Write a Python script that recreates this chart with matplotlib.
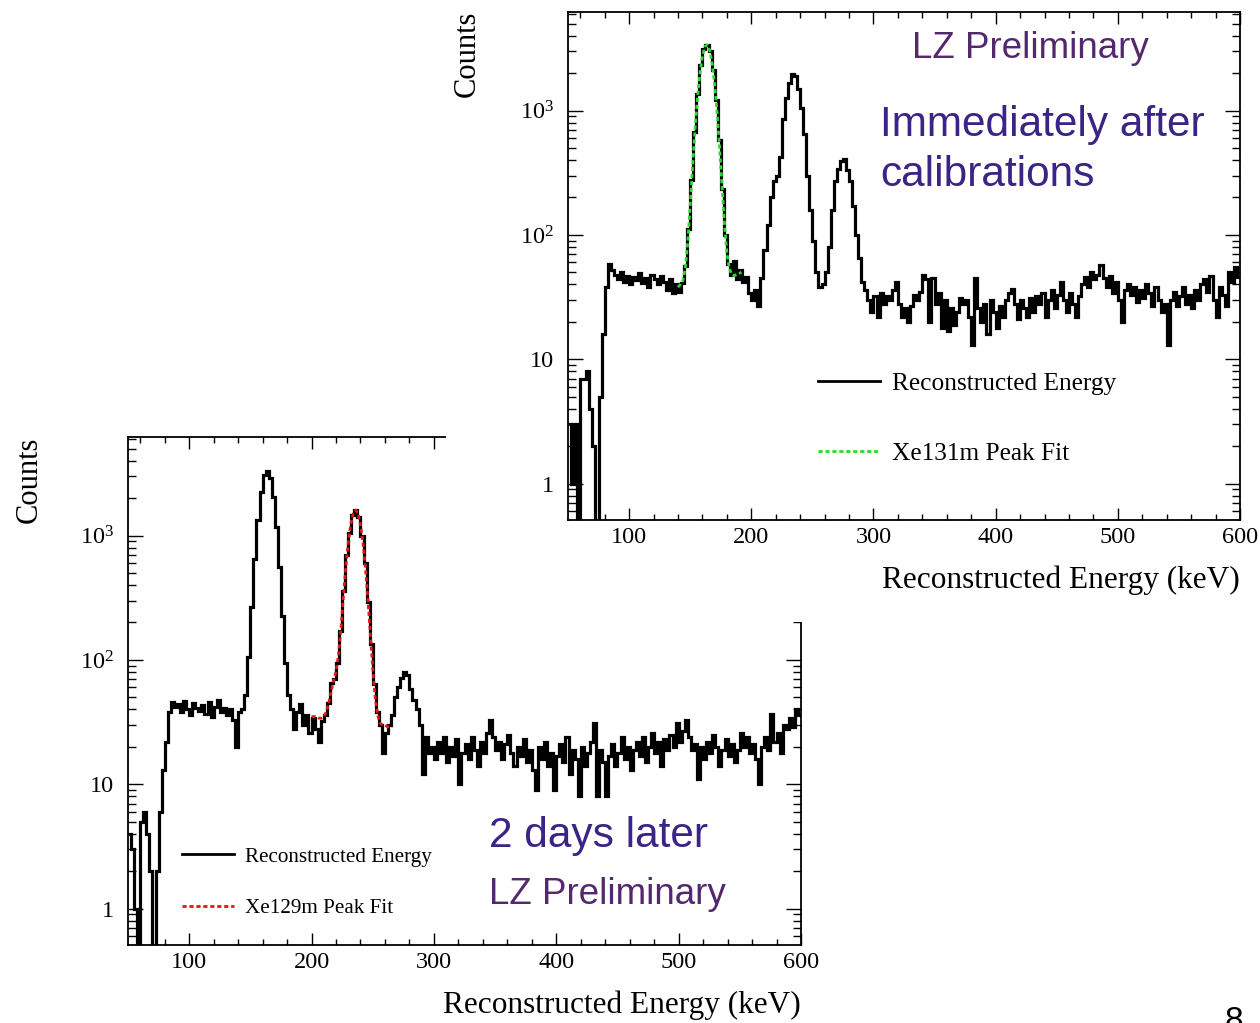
import numpy as np
import matplotlib
matplotlib.use('Agg')
import matplotlib.pyplot as plt
from matplotlib.lines import Line2D
from matplotlib.patches import Rectangle
from matplotlib.ticker import MultipleLocator, FixedLocator, LogLocator, FixedFormatter, NullFormatter

plt.rcParams['font.family'] = ['Liberation Serif', 'DejaVu Serif']
plt.rcParams['mathtext.fontset'] = 'custom'
plt.rcParams['mathtext.rm'] = 'Liberation Serif'

# ---------------- data ----------------
bin_start = 50.0
bin_width = 2.5

# "Immediately after calibrations" histogram (2.5 keV bins, 50-600 keV)
counts_after_calib = [
    3, 1, 3, 0, 7, 7, 8, 4,
    2, 0, 5, 16, 38, 58, 52, 48,
    44, 50, 42, 47, 40, 46, 43, 49,
    41, 45, 38, 48, 44, 40, 47, 42,
    36, 44, 34, 40, 35, 41, 56, 111,
    276, 667, 1371, 2320, 3150, 3380, 3010, 2120,
    1210, 575, 232, 100, 58, 48, 62, 44,
    52, 42, 46, 34, 30, 36, 27, 45,
    75, 120, 200, 270, 300, 420, 850, 1250,
    1650, 1950, 1900, 1500, 1050, 650, 300, 160,
    90, 50, 38, 40, 50, 80, 160, 270,
    340, 390, 405, 330, 270, 170, 100, 65,
    42, 36, 30, 24, 32, 22, 34, 28,
    32, 30, 36, 42, 28, 22, 26, 20,
    27, 33, 30, 35, 48, 44, 20, 45,
    28, 34, 18, 30, 17, 26, 19, 24,
    31, 28, 30, 22, 13, 45, 26, 20,
    28, 16, 30, 24, 18, 27, 22, 30,
    34, 37, 28, 21, 30, 26, 22, 31,
    24, 32, 28, 34, 22, 30, 36, 26,
    33, 42, 30, 24, 34, 28, 22, 32,
    40, 46, 38, 50, 44, 48, 57, 45,
    38, 47, 34, 42, 30, 20, 36, 40,
    33, 38, 29, 36, 31, 40, 34, 27,
    38, 30, 24, 28, 13, 30, 35, 27,
    32, 38, 28, 33, 26, 36, 30, 40,
    44, 35, 47, 30, 22, 38, 33, 27,
    50, 42, 55, 46,
]

# "2 days later" histogram
counts_two_days = [
    4, 3, 1, 0, 5, 6, 4, 2,
    0, 2, 6, 13, 22, 38, 46, 42,
    44, 38, 47, 40, 36, 45, 41, 39,
    43, 37, 46, 35, 42, 48, 38, 41,
    36, 40, 33, 20, 38, 40, 52, 105,
    265, 650, 1330, 2250, 3050, 3280, 2920, 2060,
    1170, 560, 225, 95, 52, 40, 28, 38,
    44, 30, 36, 26, 34, 28, 22, 32,
    36, 45, 65, 70, 95, 170, 360, 700,
    1050, 1450, 1600, 1400, 1000, 600, 290, 135,
    64, 38, 30, 18, 26, 30, 36, 50,
    60, 72, 80, 76, 58, 48, 40, 30,
    12, 24, 18, 20, 16, 22, 18, 24,
    15, 20, 17, 23, 10, 18, 21, 16,
    24, 19, 14, 22, 18, 26, 33, 24,
    19, 22, 16, 21, 25, 18, 14, 20,
    17, 23, 15, 19, 13, 9, 20, 16,
    22, 14, 18, 9, 17, 21, 15, 24,
    12, 19, 16, 8, 20, 14, 18, 22,
    31, 8, 19, 15, 8, 17, 21, 14,
    18, 24, 16, 20, 13, 19, 22, 17,
    24, 15, 20, 26, 18, 22, 14, 23,
    19, 25, 20, 31, 22, 27, 33, 24,
    19, 21, 11, 20, 16, 22, 18, 25,
    20, 14, 19, 23, 17, 21, 15, 19,
    26, 20, 24, 18, 21, 16, 10, 20,
    24, 19, 37, 22, 26, 18, 30, 28,
    34, 29, 40, 36,
]

fit131_energy = [140, 142, 144, 146, 148, 150, 152, 154, 156, 158, 160, 162, 164, 166,
                 168, 170, 172, 174, 176, 178, 180, 182, 184, 186, 188, 190, 192]
fit131_counts = [38, 40, 43, 54, 87, 172, 360, 711, 1271, 1991, 2736, 3262, 3377, 3041,
                 2378, 1622, 969, 516, 253, 125, 72, 54, 48, 47, 48, 49, 50]

fit129_energy = [200, 202, 204, 206, 208, 210, 212, 214, 216, 218, 220, 222, 224, 226, 228,
                 230, 232, 234, 236, 238, 240, 242, 244, 246, 248, 250, 252, 254, 256, 258,
                 260, 262, 264, 266]
fit129_counts = [35, 35, 35, 34, 34, 35, 38, 45, 56, 68, 81, 109, 177, 320, 557,
                 882, 1225, 1498, 1601, 1498, 1224, 881, 555, 314, 163, 86, 50, 36, 31, 30,
                 30, 29, 29, 29]

x_range = (50, 600)
y_range = (0.51, 6200)
y_tick_values = [1, 10, 100, 1000]
y_tick_labels = ['1', '10', r'$\mathregular{10^{2}}$', r'$\mathregular{10^{3}}$']
x_label = 'Reconstructed Energy (keV)'
y_label = 'Counts'
legend_hist = 'Reconstructed Energy'
legend_fit131 = 'Xe131m Peak Fit'
legend_fit129 = 'Xe129m Peak Fit'

green = '#2fd82f'
red = '#e01818'
purple = '#54286e'
indigo = '#3a2486'

# ---------------- figure ----------------
W, H = 1260, 1023
fig = plt.figure(figsize=(W / 100, H / 100), dpi=100)


def px_axes(l, t, r, b):
    return fig.add_axes([l / W, 1 - b / H, (r - l) / W, (b - t) / H])


edges = bin_start + bin_width * np.arange(len(counts_after_calib) + 1)


def style(ax, xlab_y, ylab_x, ylab_y):
    ax.set_yscale('log', nonpositive='clip')
    ax.set_xlim(*x_range)
    ax.set_ylim(*y_range)
    ax.xaxis.set_major_locator(MultipleLocator(100))
    ax.xaxis.set_minor_locator(MultipleLocator(20))
    ax.yaxis.set_major_locator(FixedLocator(y_tick_values))
    ax.yaxis.set_major_formatter(FixedFormatter(y_tick_labels))
    ax.yaxis.set_minor_locator(LogLocator(base=10, subs=np.arange(2, 10), numticks=30))
    ax.yaxis.set_minor_formatter(NullFormatter())
    ax.tick_params(axis='x', which='major', direction='in', length=8.5, width=1.0,
                   top=True, bottom=True, labelsize=17.5, pad=5)
    ax.tick_params(axis='x', which='minor', direction='in', length=4.3, width=1.0,
                   top=True, bottom=True)
    ax.tick_params(axis='y', which='major', direction='in', length=10.5, width=1.0,
                   left=True, right=True, labelsize=17.5, pad=10)
    ax.tick_params(axis='y', which='minor', direction='in', length=5.5, width=1.0,
                   left=True, right=True)
    for s in ax.spines.values():
        s.set_linewidth(1.3)
    ax.set_xlabel(x_label, fontsize=22.5, ha='right')
    ax.xaxis.set_label_coords(1.0, xlab_y)
    ax.set_ylabel(y_label, fontsize=22)
    ax.yaxis.set_label_coords(ylab_x, ylab_y)


# bottom-left panel: 2 days later
ax_b = px_axes(128, 437, 801, 945)
ax_b.set_zorder(0)
ax_b.stairs(counts_two_days, edges, color='black', lw=2.3, baseline=None, zorder=2)
ax_b.plot(fit129_energy, fit129_counts, color=red, lw=2.0, ls=(0, (1.5, 1)), zorder=3)
style(ax_b, -0.0886, -0.125, 0.915)
h_b = [Line2D([], [], color='black', lw=2.0),
       Line2D([], [], color=red, lw=2.0, ls=(0, (1.5, 1)))]
ax_b.legend(h_b, [legend_hist, legend_fit129], loc='upper left',
            bbox_to_anchor=(182 / W, 1 - 847 / H), bbox_transform=fig.transFigure,
            frameon=False, fontsize=15.2, handlelength=2.45, handletextpad=0.52,
            labelspacing=1.5, borderpad=0, borderaxespad=0)

# white cover (top-right panel background)
fig.add_artist(Rectangle((446 / W, 1 - 622 / H), (W - 446) / W, 622 / H,
                         transform=fig.transFigure, facecolor='white',
                         edgecolor='none', zorder=1))

# top-right panel: immediately after calibrations
ax_t = px_axes(568, 12, 1240, 520)
ax_t.set_zorder(2)
ax_t.stairs(counts_after_calib, edges, color='black', lw=2.3, baseline=None, zorder=2)
ax_t.plot(fit131_energy, fit131_counts, color=green, lw=2.0, ls=(0, (1.5, 1)), zorder=3)
style(ax_t, -0.0886, -0.128, 0.917)
h_t = [Line2D([], [], color='black', lw=2.0),
       Line2D([], [], color=green, lw=2.0, ls=(0, (1.5, 1)))]
ax_t.legend(h_t, [legend_hist, legend_fit131], loc='upper left',
            bbox_to_anchor=(818 / W, 1 - 372 / H), bbox_transform=fig.transFigure,
            frameon=False, fontsize=18.3, handlelength=2.45, handletextpad=0.48,
            labelspacing=1.88, borderpad=0, borderaxespad=0)

# annotations
sans = ['Liberation Sans', 'DejaVu Sans']
fig.text(912 / W, 1 - 58 / H, 'LZ Preliminary', color=purple, fontsize=26.5,
         family=sans, ha='left', va='baseline', zorder=5)
fig.text(880 / W, 1 - 136 / H, 'Immediately after', color=indigo, fontsize=30.5,
         family=sans, ha='left', va='baseline', zorder=5)
fig.text(880 / W, 1 - 186 / H, 'calibrations', color=indigo, fontsize=30.5,
         family=sans, ha='left', va='baseline', zorder=5)
fig.text(489 / W, 1 - 847 / H, '2 days later', color=indigo, fontsize=30.5,
         family=sans, ha='left', va='baseline', zorder=5)
fig.text(489 / W, 1 - 904 / H, 'LZ Preliminary', color=purple, fontsize=26.5,
         family=sans, ha='left', va='baseline', zorder=5)
fig.text(1234 / W, 1 - 1006 / H, '8', color='black', fontsize=24,
         family=sans, ha='center', va='top', zorder=5)

fig.savefig('out.png', dpi=100)
